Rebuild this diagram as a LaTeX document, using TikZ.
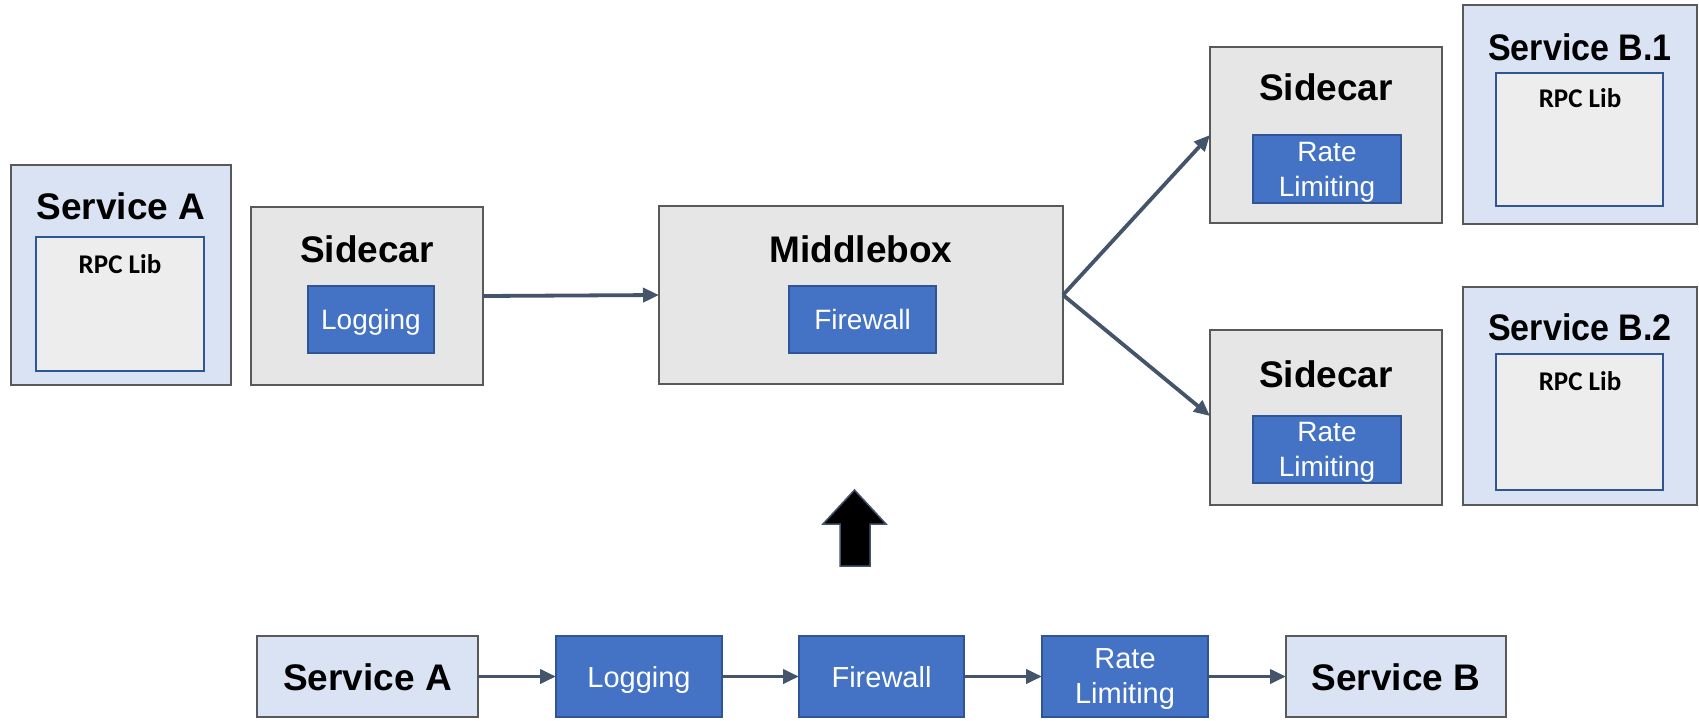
\documentclass[tikz,border=0pt]{standalone}
\usepackage{fontspec}
\setmainfont{Liberation Sans}
\newfontfamily\libfont{Carlito}
\usetikzlibrary{arrows.meta}

\definecolor{svcfill}{HTML}{DAE3F3}
\definecolor{boxline}{HTML}{595959}
\definecolor{carfill}{HTML}{E6E6E6}
\definecolor{libfill}{HTML}{EDEDED}
\definecolor{libline}{HTML}{2F5597}
\definecolor{funcfill}{HTML}{4472C4}
\definecolor{funcline}{HTML}{2F5597}
\definecolor{flow}{HTML}{44546A}

\newcommand{\narrowtxt}[1]{\scalebox{0.92}[1]{#1}}

\tikzset{
  box/.style={inner sep=0pt, outer sep=0pt, line width=2pt},
  svc/.style={box, draw=boxline, fill=svcfill},
  car/.style={box, draw=boxline, fill=carfill},
  lib/.style={box, draw=libline, fill=libfill},
  func/.style={box, draw=funcline, fill=funcfill, text=white, align=center,
               text depth=0pt, font=\fontsize{28}{35}\selectfont},
  funcbig/.style={func, font=\fontsize{29}{35}\selectfont},
  title/.style={inner sep=0pt, font=\bfseries\fontsize{37}{40}\selectfont},
  libtitle/.style={inner sep=0pt, font=\libfont\bfseries\fontsize{27}{30}\selectfont},
  flowline/.style={draw=flow, line width=3.8pt,
                   -{Triangle[length=16pt, width=14pt]}},
}

\begin{document}
\begin{tikzpicture}[x=1pt, y=-1pt]
\useasboundingbox (0,0) rectangle (1699,720);

% ---- client side: Service A and its sidecar
\node[svc, minimum width=220, minimum height=220] (svcA) at (121,275) {};
\node[lib, minimum width=168, minimum height=134] (libA) at (120,304) {};
\node[title] (svcAt) at (121,206) {Service A};
\node[libtitle] (libAt) at (120,264) {RPC Lib};

\node[car, minimum width=232, minimum height=178] (carL) at (367,296) {};
\node[title] (carLt) at (367,249) {Sidecar};
\node[func, minimum width=126, minimum height=67] (logL) at (371,319.5) {Logging};

% ---- middlebox
\node[car, minimum width=404, minimum height=178] (mid) at (861,295) {};
\node[title] (midt) at (861,249) {Middlebox};
\node[func, minimum width=147, minimum height=67] (fwM) at (862.5,319.5) {Firewall};

% ---- server side sidecars
\node[car, minimum width=232, minimum height=176] (carU) at (1326,135) {};
\node[title] (carUt) at (1326,87) {Sidecar};
\node[func, minimum width=148, minimum height=68] (rlU) at (1327,169) {Rate\\Limiting};

\node[car, minimum width=232, minimum height=175] (carD) at (1326,417.5) {};
\node[title] (carDt) at (1326,374) {Sidecar};
\node[func, minimum width=148, minimum height=67] (rlD) at (1327,449.5) {Rate\\Limiting};

% ---- server replicas
\node[svc, minimum width=234, minimum height=219] (svcB1) at (1580,114.5) {};
\node[lib, minimum width=167, minimum height=133] (libB1) at (1579.5,139.5) {};
\node[title] (svcB1t) at (1580,47) {\narrowtxt{Service B.1}};
\node[libtitle] (libB1t) at (1580,98) {RPC Lib};

\node[svc, minimum width=234, minimum height=218] (svcB2) at (1580,396) {};
\node[lib, minimum width=167, minimum height=136] (libB2) at (1579.5,422) {};
\node[title] (svcB2t) at (1580,327) {\narrowtxt{Service B.2}};
\node[libtitle] (libB2t) at (1580,381) {RPC Lib};

% ---- request path through the mesh
\draw[flowline] (carL.east) -- (mid.west);
\draw[flowline] (mid.east) -- (carU.west |- rlU.north);
\draw[flowline] (mid.east) -- (carD.west |- rlD.north);

% ---- logical chain
\node[svc, minimum width=221, minimum height=81] (chA) at (367.5,676.5) {};
\node[title] (chAt) at (367.5,677) {Service A};
\node[funcbig, minimum width=166, minimum height=81] (chLog) at (639,676.5) {Logging};
\node[funcbig, minimum width=165, minimum height=81] (chFw) at (881.5,676.5) {Firewall};
\node[funcbig, minimum width=166, minimum height=81] (chRl) at (1125,676.5) {Rate\\Limiting};
\node[svc, minimum width=220, minimum height=81] (chB) at (1396,676.5) {};
\node[title] (chBt) at (1396,677) {Service B};

\draw[flowline] (chA.east) -- (chLog.west);
\draw[flowline] (chLog.east) -- (chFw.west);
\draw[flowline] (chFw.east) -- (chRl.west);
\draw[flowline] (chRl.east) -- (chB.west);

% ---- block arrow: chain realised by the mesh above
\draw[draw=flow, fill=black, line width=1.5pt, line join=miter]
  (840,566) -- (840,524) -- (823,524) -- (854.5,490) -- (886,524)
  -- (870,524) -- (870,566) -- cycle;
\end{tikzpicture}
\end{document}
